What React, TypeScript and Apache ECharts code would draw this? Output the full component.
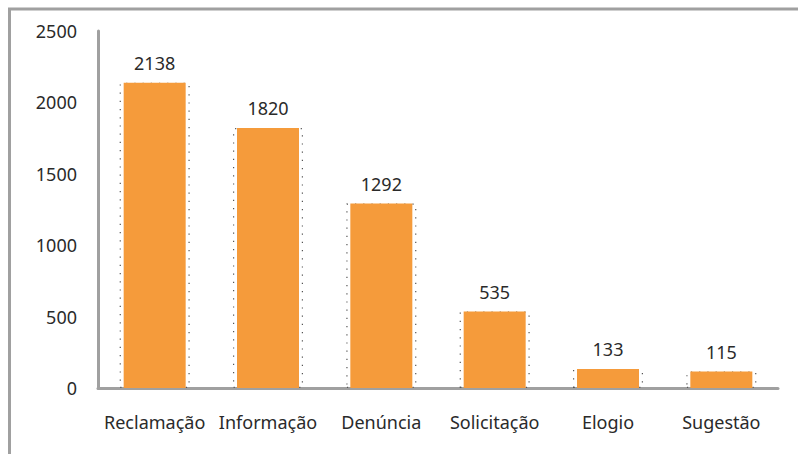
import React, { useEffect, useRef } from "react";
import * as echarts from "echarts";

const categories = ["Reclamação", "Informação", "Denúncia", "Solicitação", "Elogio", "Sugestão"];
const values = [2138, 1820, 1292, 535, 133, 115];
const yTicks = { min: 0, max: 2500, interval: 500 };

export default function App() {
  const ref = useRef<HTMLDivElement>(null);
  useEffect(() => {
    if (!ref.current) return;
    const chart = echarts.init(ref.current, null, { renderer: "svg" });
    const font = "'Noto Sans', sans-serif";
    chart.setOption({
      animation: false,
      backgroundColor: "#ffffff",
      grid: { left: 98, right: 20, top: 31, bottom: 66 },
      graphic: [
        { type: "line", shape: { x1: 8, y1: 9, x2: 798, y2: 9 }, style: { stroke: "#a0a0a0", lineWidth: 3 } },
        { type: "line", shape: { x1: 9.5, y1: 8, x2: 9.5, y2: 454 }, style: { stroke: "#a0a0a0", lineWidth: 3 } },
      ],
      xAxis: [
        {
          type: "category",
          data: categories,
          axisLine: { show: true, lineStyle: { color: "#a0a0a0", width: 3 } },
          axisTick: { show: false },
          axisLabel: { color: "#2a2a2a", fontSize: 18, fontFamily: font, margin: 25, interval: 0 },
        },
        {
          type: "category",
          data: categories,
          show: false,
        },
      ],
      yAxis: {
        type: "value",
        min: yTicks.min,
        max: yTicks.max,
        interval: yTicks.interval,
        splitLine: { show: false },
        axisTick: { show: false },
        axisLine: { show: true, lineStyle: { color: "#a0a0a0", width: 3 } },
        axisLabel: {
          color: "#2a2a2a",
          fontSize: 18,
          fontFamily: font,
          margin: 21,
          formatter: (v: number) => String(v),
        },
      },
      series: [
        {
          type: "bar",
          xAxisIndex: 1,
          data: values,
          barWidth: 70,
          z: 1,
          silent: true,
          itemStyle: {
            color: "rgba(0,0,0,0)",
            borderColor: "#555",
            borderWidth: 1.2,
            borderType: [1.2, 7],
          },
        },
        {
          type: "bar",
          data: values,
          barWidth: 62,
          z: 2,
          itemStyle: { color: "#F59B3B" },
          label: {
            show: true,
            position: "top",
            distance: 11,
            color: "#2a2a2a",
            fontSize: 18,
            fontFamily: font,
          },
        },
      ],
    });
    return () => chart.dispose();
  }, []);
  return <div ref={ref} style={{ position: "fixed", left: 0, top: 0, width: 798, height: 454 }} />;
}
